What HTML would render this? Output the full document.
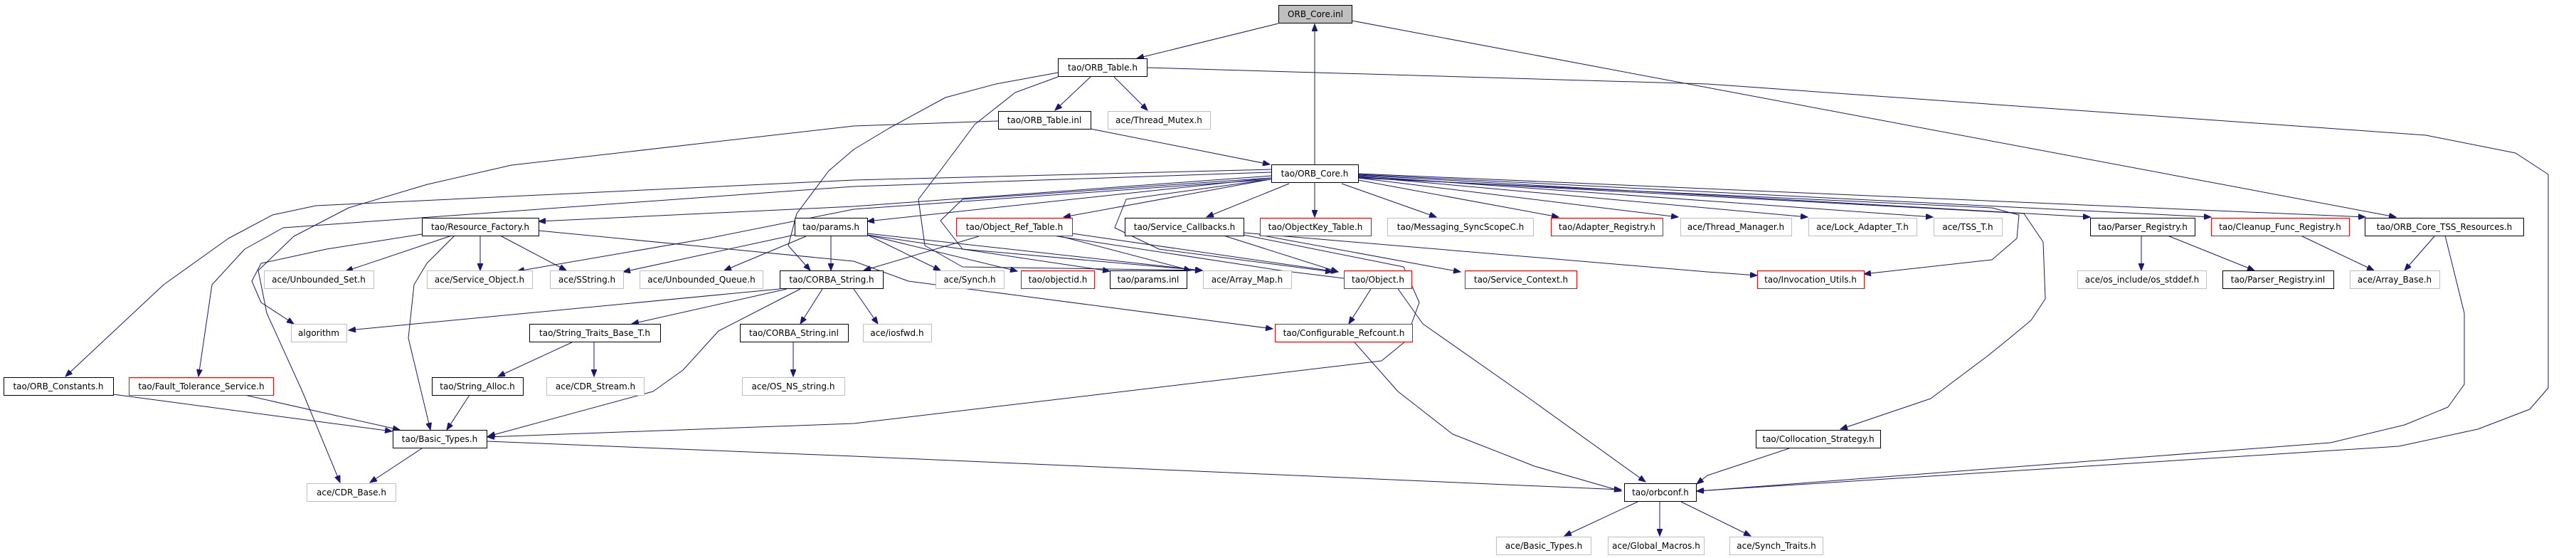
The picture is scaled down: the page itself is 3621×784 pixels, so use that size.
<!DOCTYPE html>
<html><head><meta charset="utf-8"><style>
html,body{margin:0;padding:0;background:#fff}
svg{display:block}
text{font-family:"DejaVu Sans","Liberation Sans",sans-serif;font-size:12px;fill:#000}
.e{fill:none;stroke:#191970;stroke-width:1;stroke-linejoin:round}
</style></head><body>
<svg width="3621" height="784" viewBox="0 0 3621 784" xmlns="http://www.w3.org/2000/svg">
<defs>
<marker id="a" markerUnits="userSpaceOnUse" markerWidth="11" markerHeight="8" refX="10" refY="4" orient="auto">
<path d="M0,0 L10,4 L0,8 Z" fill="#191970" stroke="#191970"/>
</marker>
</defs>
<g class="e" marker-end="url(#a)">
<polyline points="1797,33 1598,82"/>
<polyline points="1848,231 1848,34"/>
<polyline points="1900,29 3368,305"/>
<polyline points="1533,108 1483,155"/>
<polyline points="1566,108 1613,155"/>
<polyline points="1612,95 2400,118 3410,190 3536,215 3582,245 3582,545 3556,575 3483,603 3372,627 2400,689 2385,690"/>
<polyline points="1487,102 1400,118 1329,137 1250,180 1200,210 1165,240 1120,300 1108,345 1139,380"/>
<polyline points="1487,108 1427,130 1370,175 1329,230 1291,280 1300,345 1353,375 1690,380"/>
<polyline points="1533,181 1785,231"/>
<polyline points="1403,170 1200,177 719,232 601,259 490,292 413,332 363,380 375,440 425,550 478,678"/>
<polyline points="1785,252 1495,305"/>
<polyline points="1812,258 1696,305"/>
<polyline points="1848,257 1848,305"/>
<polyline points="1886,258 2019,305"/>
<polyline points="1909,253 2191,305"/>
<polyline points="1909,250 2359,305"/>
<polyline points="1909,248 2541,305"/>
<polyline points="1909,247 2717,305"/>
<polyline points="1909,246 2938,305"/>
<polyline points="1909,245 3108,305"/>
<polyline points="1909,244 3325,305"/>
<polyline points="1909,250 2800,292 2838,302 2835,335 2800,365 2620,385"/>
<polyline points="1909,249 2845,300 2872,340 2875,420 2855,450 2825,475 2794,500 2714,560 2587,603"/>
<polyline points="1787,247 1200,290 757,311"/>
<polyline points="1787,250 1219,311"/>
<polyline points="1787,238 1200,253 444,289 383,302 321,335 230,400 92,529"/>
<polyline points="1787,242 1200,262 536,310 398,320 344,350 298,400 279,529"/>
<polyline points="1787,252 1200,294 995,335 727,381"/>
<polyline points="1786,250 1353,280 1322,310 1353,350 1690,380"/>
<polyline points="1786,252 1583,280 1567,320 1629,350 1873,382"/>
<polyline points="1480,331 1800,380 1961,400 2000,455 2150,560 2313,677"/>
<polyline points="1376,332 1214,380"/>
<polyline points="1507,328 1881,382"/>
<polyline points="1483,330 1674,380"/>
<polyline points="1748,330 1973,375 1995,425 1975,480 1942,507 1200,595 685,614"/>
<polyline points="1720,331 1881,382"/>
<polyline points="1748,327 2400,382 2470,387"/>
<polyline points="1770,330 2053,382"/>
<polyline points="757,324 1200,367 1277,395 1430,415 1789,462"/>
<polyline points="1904,481 1965,550 2042,610 2157,655 2279,690"/>
<polyline points="1927,406 1896,455"/>
<polyline points="1219,330 1322,380"/>
<polyline points="1219,330 1430,381"/>
<polyline points="1219,330 1560,381"/>
<polyline points="1219,328 1690,380"/>
<polyline points="1168,331 1168,380"/>
<polyline points="1133,332 1018,380"/>
<polyline points="1117,330 876,382"/>
<polyline points="635,331 486,381"/>
<polyline points="675,331 675,380"/>
<polyline points="703,331 796,380"/>
<polyline points="639,331 600,370 582,400 574,475 605,604"/>
<polyline points="593,329 459,350 367,370 354,395 367,425 413,455"/>
<polyline points="1096,406 490,464"/>
<polyline points="1106,406 888,455"/>
<polyline points="1156,406 1125,455"/>
<polyline points="1200,406 1234,455"/>
<polyline points="1125,406 1010,465 960,520 918,550 686,613"/>
<polyline points="804,481 700,529"/>
<polyline points="835,481 835,529"/>
<polyline points="1115,481 1115,529"/>
<polyline points="660,555 628,604"/>
<polyline points="159,554 551,606"/>
<polyline points="344,555 562,604"/>
<polyline points="593,630 520,678"/>
<polyline points="685,620 1200,641 2279,688"/>
<polyline points="2302,705 2199,753"/>
<polyline points="2333,705 2333,753"/>
<polyline points="2363,705 2461,753"/>
<polyline points="2515,630 2400,668 2385,680"/>
<polyline points="3437,331 3464,440 3464,540 3441,572 3380,597 3276,622 2400,689 2385,690"/>
<polyline points="3422,332 3380,380"/>
<polyline points="3234,331 3337,380"/>
<polyline points="3010,331 3010,380"/>
<polyline points="3047,331 3169,380"/>
</g>
<g stroke-width="1">
<g fill="#fff" stroke="#000">
<rect x="1487.5" y="82.5" width="125" height="25"/>
<rect x="1403.5" y="156.5" width="130" height="25"/>
<rect x="1787.5" y="231.5" width="122" height="25"/>
<rect x="593.5" y="306.5" width="164" height="25"/>
<rect x="1117.5" y="306.5" width="102" height="25"/>
<rect x="1581.5" y="306.5" width="167" height="25"/>
<rect x="2938.5" y="306.5" width="147" height="25"/>
<rect x="3324.5" y="306.5" width="223" height="25"/>
<rect x="1096.5" y="380.5" width="145" height="25"/>
<rect x="1560.5" y="380.5" width="108" height="25"/>
<rect x="3124.5" y="380.5" width="156" height="25"/>
<rect x="744.5" y="455.5" width="184" height="25"/>
<rect x="1040.5" y="455.5" width="152" height="25"/>
<rect x="5.5" y="530.5" width="154" height="25"/>
<rect x="607.5" y="530.5" width="128" height="25"/>
<rect x="552.5" y="604.5" width="132" height="25"/>
<rect x="2468.5" y="604.5" width="175" height="25"/>
<rect x="2283.5" y="679.5" width="101" height="25"/>
</g>
<rect x="1797.5" y="7.5" width="103" height="25" fill="#bfbfbf" stroke="#000"/>
<g fill="#fff" stroke="#ff0000">
<rect x="1344.5" y="306.5" width="163" height="25"/>
<rect x="1771.5" y="306.5" width="156" height="25"/>
<rect x="2180.5" y="306.5" width="157" height="25"/>
<rect x="3108.5" y="306.5" width="194" height="25"/>
<rect x="1435.5" y="380.5" width="103" height="25"/>
<rect x="1889.5" y="380.5" width="95" height="25"/>
<rect x="2059.5" y="380.5" width="157" height="25"/>
<rect x="2470.5" y="380.5" width="150" height="25"/>
<rect x="1792.5" y="455.5" width="193" height="25"/>
<rect x="181.5" y="530.5" width="203" height="25"/>
</g>
<g fill="#fff" stroke="#bfbfbf">
<rect x="1557.5" y="156.5" width="144" height="25"/>
<rect x="1950.5" y="306.5" width="205" height="25"/>
<rect x="2362.5" y="306.5" width="156" height="25"/>
<rect x="2542.5" y="306.5" width="152" height="25"/>
<rect x="2718.5" y="306.5" width="96" height="25"/>
<rect x="371.5" y="380.5" width="154" height="25"/>
<rect x="600.5" y="380.5" width="148" height="25"/>
<rect x="773.5" y="380.5" width="103" height="25"/>
<rect x="899.5" y="380.5" width="173" height="25"/>
<rect x="1315.5" y="380.5" width="96" height="25"/>
<rect x="1691.5" y="380.5" width="124" height="25"/>
<rect x="2920.5" y="380.5" width="181" height="25"/>
<rect x="3303.5" y="380.5" width="126" height="25"/>
<rect x="409.5" y="455.5" width="78" height="25"/>
<rect x="1213.5" y="455.5" width="96" height="25"/>
<rect x="768.5" y="530.5" width="137" height="25"/>
<rect x="1043.5" y="530.5" width="144" height="25"/>
<rect x="431.5" y="679.5" width="125" height="25"/>
<rect x="2103.5" y="754.5" width="133" height="25"/>
<rect x="2260.5" y="754.5" width="135" height="25"/>
<rect x="2431.5" y="754.5" width="131" height="25"/>
</g>
</g>
<g text-anchor="middle">
<text x="1849" y="24">ORB_Core.inl</text>
<text x="1550" y="99">tao/ORB_Table.h</text>
<text x="1468" y="173">tao/ORB_Table.inl</text>
<text x="1629" y="173">ace/Thread_Mutex.h</text>
<text x="1848" y="248">tao/ORB_Core.h</text>
<text x="675" y="323">tao/Resource_Factory.h</text>
<text x="1168" y="323">tao/params.h</text>
<text x="1426" y="323">tao/Object_Ref_Table.h</text>
<text x="1665" y="323">tao/Service_Callbacks.h</text>
<text x="1849" y="323">tao/ObjectKey_Table.h</text>
<text x="2053" y="323">tao/Messaging_SyncScopeC.h</text>
<text x="2259" y="323">tao/Adapter_Registry.h</text>
<text x="2440" y="323">ace/Thread_Manager.h</text>
<text x="2618" y="323">ace/Lock_Adapter_T.h</text>
<text x="2766" y="323">ace/TSS_T.h</text>
<text x="3012" y="323">tao/Parser_Registry.h</text>
<text x="3205" y="323">tao/Cleanup_Func_Registry.h</text>
<text x="3436" y="323">tao/ORB_Core_TSS_Resources.h</text>
<text x="448" y="397">ace/Unbounded_Set.h</text>
<text x="674" y="397">ace/Service_Object.h</text>
<text x="825" y="397">ace/SString.h</text>
<text x="986" y="397">ace/Unbounded_Queue.h</text>
<text x="1169" y="397">tao/CORBA_String.h</text>
<text x="1363" y="397">ace/Synch.h</text>
<text x="1487" y="397">tao/objectid.h</text>
<text x="1614" y="397">tao/params.inl</text>
<text x="1753" y="397">ace/Array_Map.h</text>
<text x="1937" y="397">tao/Object.h</text>
<text x="2138" y="397">tao/Service_Context.h</text>
<text x="2545" y="397">tao/Invocation_Utils.h</text>
<text x="3011" y="397">ace/os_include/os_stddef.h</text>
<text x="3202" y="397">tao/Parser_Registry.inl</text>
<text x="3366" y="397">ace/Array_Base.h</text>
<text x="448" y="472">algorithm</text>
<text x="836" y="472">tao/String_Traits_Base_T.h</text>
<text x="1116" y="472">tao/CORBA_String.inl</text>
<text x="1261" y="472">ace/iosfwd.h</text>
<text x="1889" y="472">tao/Configurable_Refcount.h</text>
<text x="82" y="547">tao/ORB_Constants.h</text>
<text x="283" y="547">tao/Fault_Tolerance_Service.h</text>
<text x="671" y="547">tao/String_Alloc.h</text>
<text x="837" y="547">ace/CDR_Stream.h</text>
<text x="1115" y="547">ace/OS_NS_string.h</text>
<text x="618" y="621">tao/Basic_Types.h</text>
<text x="2556" y="621">tao/Collocation_Strategy.h</text>
<text x="494" y="696">ace/CDR_Base.h</text>
<text x="2334" y="696">tao/orbconf.h</text>
<text x="2170" y="771">ace/Basic_Types.h</text>
<text x="2328" y="771">ace/Global_Macros.h</text>
<text x="2497" y="771">ace/Synch_Traits.h</text>
</g>
</svg>
</body></html>
